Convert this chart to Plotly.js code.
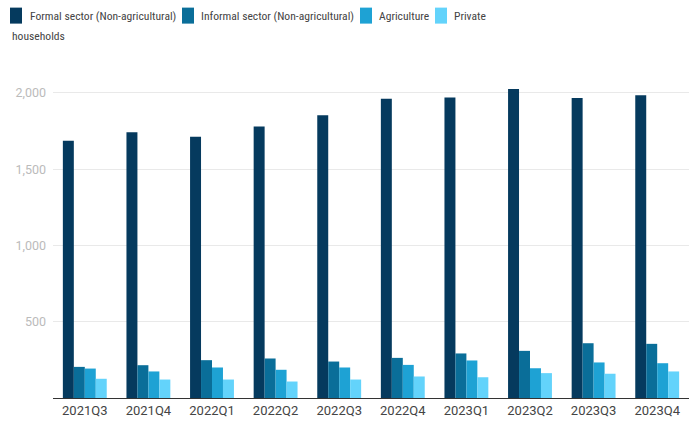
<!DOCTYPE html>
<html>
<head>
<meta charset="utf-8">
<script src="https://cdn.plot.ly/plotly-3.0.1.min.js"></script>
<style>html,body{margin:0;padding:0;background:#fff;}#chart{width:689px;height:421px;}</style>
</head>
<body>
<div id="chart"></div>
<script>
const quarters = ["2021Q3","2021Q4","2022Q1","2022Q2","2022Q3","2022Q4","2023Q1","2023Q2","2023Q3","2023Q4"];
const formal   = [1687, 1742, 1712, 1779, 1853, 1961, 1969, 2026, 1967, 1984];
const informal = [204, 215, 248, 259, 239, 263, 292, 309, 359, 355];
const agriculture = [193, 174, 200, 185, 200, 217, 246, 195, 233, 228];
const households = [126, 121, 121, 108, 121, 141, 136, 163, 159, 174];
const seriesNames = ["Formal sector (Non-agricultural)", "Informal sector (Non-agricultural)", "Agriculture", "Private households"];
const seriesColors = ["#053a5e", "#0a6e99", "#1ea2d4", "#63d3fb"];
const yTicks = [500, 1000, 1500, 2000];

const seriesValues = [formal, informal, agriculture, households];
const traces = seriesValues.map((vals, i) => ({
  type: "bar", x: quarters, y: vals, name: seriesNames[i],
  marker: {color: seriesColors[i], line: {width: 0}},
  hoverinfo: "x+y+name"
}));

const L = 53, W = 636, T = 70.4, H = 328.1;
function px2x(p){ return (p - L) / W; }
function py2y(p){ return (T + H - p) / H; }

// custom wrapped legend
const legendItems = [
  {sq: 10, tx: 28, y: 16, text: "Formal sector (Non-agricultural)"},
  {sq: 182, tx: 199, y: 16, text: "Informal sector (Non-agricultural)"},
  {sq: 360, tx: 377, y: 16, text: "Agriculture"},
  {sq: 435, tx: 452, y: 16, text: "Private"}
];
const legFont = {family: "'Liberation Sans Narrow', 'Roboto Condensed', Roboto, sans-serif", size: 11.6, color: "#444"};
const shapes = [];
const annotations = [];
legendItems.forEach((it, i) => {
  shapes.push({type: "rect", xref: "paper", yref: "paper",
    x0: px2x(it.sq), x1: px2x(it.sq + 12), y0: py2y(it.y + 8), y1: py2y(it.y - 8),
    fillcolor: seriesColors[i], line: {width: 0}});
  annotations.push({xref: "paper", yref: "paper", x: px2x(it.tx), y: py2y(it.y),
    xanchor: "left", yanchor: "middle", showarrow: false, text: it.text, font: legFont});
});
annotations.push({xref: "paper", yref: "paper", x: px2x(10), y: py2y(36),
  xanchor: "left", yanchor: "middle", showarrow: false, text: "households", font: legFont});

const layout = {
  width: 689, height: 421,
  margin: {l: L, r: 0, t: T, b: 421 - T - H},
  paper_bgcolor: "#fff", plot_bgcolor: "#fff",
  barmode: "group", bargap: 0.31, bargroupgap: 0,
  showlegend: false,
  font: {family: "Roboto, sans-serif"},
  xaxis: {type: "category", tickfont: {size: 13, color: "#444"}, showgrid: false,
    showline: true, linecolor: "#333", linewidth: 1, ticks: "", ticklen: 0},
  yaxis: {range: [0, 2150], tickvals: yTicks, ticktext: yTicks.map(v => v.toLocaleString("en-US")),
    tickfont: {size: 12.5, color: "#bbb"}, showgrid: true, gridcolor: "#e9e9e9", gridwidth: 1,
    zeroline: false, showline: false, ticks: "", ticklabelstandoff: 6},
  shapes: shapes, annotations: annotations
};
Plotly.newPlot("chart", traces, layout, {displayModeBar: false, staticPlot: true});
</script>
</body>
</html>
